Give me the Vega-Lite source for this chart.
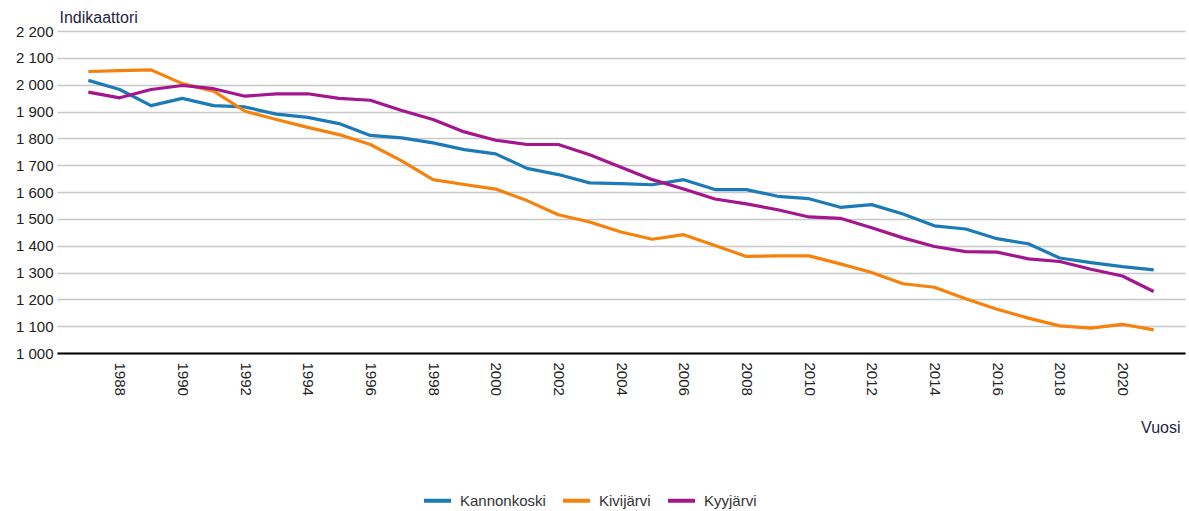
{
  "$schema": "https://vega.github.io/schema/vega-lite/v6.json",
  "width": 1128,
  "height": 322,
  "autosize": "none",
  "padding": {"left": 57, "top": 31, "right": 4, "bottom": 158},
  "background": "white",
  "config": {
    "view": {"stroke": null},
    "font": "Liberation Sans"
  },
  "data": {
    "values": [
      {"Vuosi": 1987, "Kunta": "Kannonkoski", "Arvo": 2016},
      {"Vuosi": 1988, "Kunta": "Kannonkoski", "Arvo": 1982},
      {"Vuosi": 1989, "Kunta": "Kannonkoski", "Arvo": 1922},
      {"Vuosi": 1990, "Kunta": "Kannonkoski", "Arvo": 1949},
      {"Vuosi": 1991, "Kunta": "Kannonkoski", "Arvo": 1922},
      {"Vuosi": 1992, "Kunta": "Kannonkoski", "Arvo": 1917},
      {"Vuosi": 1993, "Kunta": "Kannonkoski", "Arvo": 1890},
      {"Vuosi": 1994, "Kunta": "Kannonkoski", "Arvo": 1878},
      {"Vuosi": 1995, "Kunta": "Kannonkoski", "Arvo": 1855},
      {"Vuosi": 1996, "Kunta": "Kannonkoski", "Arvo": 1811},
      {"Vuosi": 1997, "Kunta": "Kannonkoski", "Arvo": 1802},
      {"Vuosi": 1998, "Kunta": "Kannonkoski", "Arvo": 1783},
      {"Vuosi": 1999, "Kunta": "Kannonkoski", "Arvo": 1758},
      {"Vuosi": 2000, "Kunta": "Kannonkoski", "Arvo": 1742},
      {"Vuosi": 2001, "Kunta": "Kannonkoski", "Arvo": 1688},
      {"Vuosi": 2002, "Kunta": "Kannonkoski", "Arvo": 1665},
      {"Vuosi": 2003, "Kunta": "Kannonkoski", "Arvo": 1634},
      {"Vuosi": 2004, "Kunta": "Kannonkoski", "Arvo": 1631},
      {"Vuosi": 2005, "Kunta": "Kannonkoski", "Arvo": 1627},
      {"Vuosi": 2006, "Kunta": "Kannonkoski", "Arvo": 1646},
      {"Vuosi": 2007, "Kunta": "Kannonkoski", "Arvo": 1609},
      {"Vuosi": 2008, "Kunta": "Kannonkoski", "Arvo": 1609},
      {"Vuosi": 2009, "Kunta": "Kannonkoski", "Arvo": 1584},
      {"Vuosi": 2010, "Kunta": "Kannonkoski", "Arvo": 1575},
      {"Vuosi": 2011, "Kunta": "Kannonkoski", "Arvo": 1543},
      {"Vuosi": 2012, "Kunta": "Kannonkoski", "Arvo": 1553},
      {"Vuosi": 2013, "Kunta": "Kannonkoski", "Arvo": 1518},
      {"Vuosi": 2014, "Kunta": "Kannonkoski", "Arvo": 1474},
      {"Vuosi": 2015, "Kunta": "Kannonkoski", "Arvo": 1462},
      {"Vuosi": 2016, "Kunta": "Kannonkoski", "Arvo": 1426},
      {"Vuosi": 2017, "Kunta": "Kannonkoski", "Arvo": 1407},
      {"Vuosi": 2018, "Kunta": "Kannonkoski", "Arvo": 1354},
      {"Vuosi": 2019, "Kunta": "Kannonkoski", "Arvo": 1337},
      {"Vuosi": 2020, "Kunta": "Kannonkoski", "Arvo": 1322},
      {"Vuosi": 2021, "Kunta": "Kannonkoski", "Arvo": 1310},
      {"Vuosi": 1987, "Kunta": "Kivijärvi", "Arvo": 2049},
      {"Vuosi": 1988, "Kunta": "Kivijärvi", "Arvo": 2052},
      {"Vuosi": 1989, "Kunta": "Kivijärvi", "Arvo": 2055},
      {"Vuosi": 1990, "Kunta": "Kivijärvi", "Arvo": 2004},
      {"Vuosi": 1991, "Kunta": "Kivijärvi", "Arvo": 1976},
      {"Vuosi": 1992, "Kunta": "Kivijärvi", "Arvo": 1901},
      {"Vuosi": 1993, "Kunta": "Kivijärvi", "Arvo": 1870},
      {"Vuosi": 1994, "Kunta": "Kivijärvi", "Arvo": 1841},
      {"Vuosi": 1995, "Kunta": "Kivijärvi", "Arvo": 1814},
      {"Vuosi": 1996, "Kunta": "Kivijärvi", "Arvo": 1777},
      {"Vuosi": 1997, "Kunta": "Kivijärvi", "Arvo": 1716},
      {"Vuosi": 1998, "Kunta": "Kivijärvi", "Arvo": 1646},
      {"Vuosi": 1999, "Kunta": "Kivijärvi", "Arvo": 1628},
      {"Vuosi": 2000, "Kunta": "Kivijärvi", "Arvo": 1611},
      {"Vuosi": 2001, "Kunta": "Kivijärvi", "Arvo": 1568},
      {"Vuosi": 2002, "Kunta": "Kivijärvi", "Arvo": 1515},
      {"Vuosi": 2003, "Kunta": "Kivijärvi", "Arvo": 1488},
      {"Vuosi": 2004, "Kunta": "Kivijärvi", "Arvo": 1451},
      {"Vuosi": 2005, "Kunta": "Kivijärvi", "Arvo": 1424},
      {"Vuosi": 2006, "Kunta": "Kivijärvi", "Arvo": 1441},
      {"Vuosi": 2007, "Kunta": "Kivijärvi", "Arvo": 1401},
      {"Vuosi": 2008, "Kunta": "Kivijärvi", "Arvo": 1360},
      {"Vuosi": 2009, "Kunta": "Kivijärvi", "Arvo": 1362},
      {"Vuosi": 2010, "Kunta": "Kivijärvi", "Arvo": 1362},
      {"Vuosi": 2011, "Kunta": "Kivijärvi", "Arvo": 1332},
      {"Vuosi": 2012, "Kunta": "Kivijärvi", "Arvo": 1300},
      {"Vuosi": 2013, "Kunta": "Kivijärvi", "Arvo": 1258},
      {"Vuosi": 2014, "Kunta": "Kivijärvi", "Arvo": 1245},
      {"Vuosi": 2015, "Kunta": "Kivijärvi", "Arvo": 1202},
      {"Vuosi": 2016, "Kunta": "Kivijärvi", "Arvo": 1163},
      {"Vuosi": 2017, "Kunta": "Kivijärvi", "Arvo": 1130},
      {"Vuosi": 2018, "Kunta": "Kivijärvi", "Arvo": 1101},
      {"Vuosi": 2019, "Kunta": "Kivijärvi", "Arvo": 1093},
      {"Vuosi": 2020, "Kunta": "Kivijärvi", "Arvo": 1107},
      {"Vuosi": 2021, "Kunta": "Kivijärvi", "Arvo": 1086},
      {"Vuosi": 1987, "Kunta": "Kyyjärvi", "Arvo": 1972},
      {"Vuosi": 1988, "Kunta": "Kyyjärvi", "Arvo": 1951},
      {"Vuosi": 1989, "Kunta": "Kyyjärvi", "Arvo": 1982},
      {"Vuosi": 1990, "Kunta": "Kyyjärvi", "Arvo": 1997},
      {"Vuosi": 1991, "Kunta": "Kyyjärvi", "Arvo": 1985},
      {"Vuosi": 1992, "Kunta": "Kyyjärvi", "Arvo": 1957},
      {"Vuosi": 1993, "Kunta": "Kyyjärvi", "Arvo": 1966},
      {"Vuosi": 1994, "Kunta": "Kyyjärvi", "Arvo": 1966},
      {"Vuosi": 1995, "Kunta": "Kyyjärvi", "Arvo": 1949},
      {"Vuosi": 1996, "Kunta": "Kyyjärvi", "Arvo": 1942},
      {"Vuosi": 1997, "Kunta": "Kyyjärvi", "Arvo": 1904},
      {"Vuosi": 1998, "Kunta": "Kyyjärvi", "Arvo": 1870},
      {"Vuosi": 1999, "Kunta": "Kyyjärvi", "Arvo": 1824},
      {"Vuosi": 2000, "Kunta": "Kyyjärvi", "Arvo": 1793},
      {"Vuosi": 2001, "Kunta": "Kyyjärvi", "Arvo": 1777},
      {"Vuosi": 2002, "Kunta": "Kyyjärvi", "Arvo": 1777},
      {"Vuosi": 2003, "Kunta": "Kyyjärvi", "Arvo": 1739},
      {"Vuosi": 2004, "Kunta": "Kyyjärvi", "Arvo": 1692},
      {"Vuosi": 2005, "Kunta": "Kyyjärvi", "Arvo": 1646},
      {"Vuosi": 2006, "Kunta": "Kyyjärvi", "Arvo": 1611},
      {"Vuosi": 2007, "Kunta": "Kyyjärvi", "Arvo": 1574},
      {"Vuosi": 2008, "Kunta": "Kyyjärvi", "Arvo": 1556},
      {"Vuosi": 2009, "Kunta": "Kyyjärvi", "Arvo": 1534},
      {"Vuosi": 2010, "Kunta": "Kyyjärvi", "Arvo": 1507},
      {"Vuosi": 2011, "Kunta": "Kyyjärvi", "Arvo": 1502},
      {"Vuosi": 2012, "Kunta": "Kyyjärvi", "Arvo": 1467},
      {"Vuosi": 2013, "Kunta": "Kyyjärvi", "Arvo": 1429},
      {"Vuosi": 2014, "Kunta": "Kyyjärvi", "Arvo": 1397},
      {"Vuosi": 2015, "Kunta": "Kyyjärvi", "Arvo": 1378},
      {"Vuosi": 2016, "Kunta": "Kyyjärvi", "Arvo": 1376},
      {"Vuosi": 2017, "Kunta": "Kyyjärvi", "Arvo": 1351},
      {"Vuosi": 2018, "Kunta": "Kyyjärvi", "Arvo": 1341},
      {"Vuosi": 2019, "Kunta": "Kyyjärvi", "Arvo": 1312},
      {"Vuosi": 2020, "Kunta": "Kyyjärvi", "Arvo": 1287},
      {"Vuosi": 2021, "Kunta": "Kyyjärvi", "Arvo": 1229}
    ]
  },
  "mark": {"type": "line", "strokeWidth": 3.2, "strokeJoin": "round"},
  "encoding": {
    "x": {
      "field": "Vuosi",
      "type": "quantitative",
      "scale": {"domain": [1986, 2022], "nice": false, "zero": false},
      "axis": {
        "values": [1988, 1990, 1992, 1994, 1996, 1998, 2000, 2002, 2004, 2006, 2008, 2010, 2012, 2014, 2016, 2018, 2020],
        "format": "d",
        "grid": false,
        "ticks": false,
        "domain": true,
        "domainColor": "#000000",
        "domainWidth": 2,
        "labelAngle": 90,
        "labelAlign": "left",
        "labelBaseline": "middle",
        "labelPadding": 9,
        "labelFontSize": 15,
        "labelColor": "#222222",
        "title": "Vuosi",
        "titleFontSize": 16,
        "titleFontWeight": "normal",
        "titleColor": "#1f1f45",
        "titleAnchor": null,
        "titleAlign": "right",
        "titleBaseline": "alphabetic",
        "titleX": 1123,
        "titleY": 79
      }
    },
    "y": {
      "field": "Arvo",
      "type": "quantitative",
      "scale": {"domain": [1000, 2200], "nice": false, "zero": false},
      "axis": {
        "values": [1000, 1100, 1200, 1300, 1400, 1500, 1600, 1700, 1800, 1900, 2000, 2100, 2200],
        "labelExpr": "replace(format(datum.value, ','), ',', ' ')",
        "grid": true,
        "gridColor": "#c8c8c8",
        "gridWidth": 1.5,
        "ticks": false,
        "domain": false,
        "labelPadding": 4,
        "labelFontSize": 15,
        "labelColor": "#222222",
        "title": "Indikaattori",
        "titleFontSize": 16,
        "titleFontWeight": "normal",
        "titleColor": "#1f1f45",
        "titleAngle": 0,
        "titleAnchor": null,
        "titleAlign": "left",
        "titleBaseline": "alphabetic",
        "titleX": 2,
        "titleY": -9
      }
    },
    "color": {
      "field": "Kunta",
      "type": "nominal",
      "scale": {
        "domain": ["Kannonkoski", "Kivijärvi", "Kyyjärvi"],
        "range": ["#1c7ab7", "#f5820c", "#a3168e"]
      },
      "legend": {
        "title": null,
        "orient": "none",
        "direction": "horizontal",
        "legendX": 365,
        "legendY": 454,
        "symbolType": "stroke",
        "symbolSize": 729,
        "symbolStrokeWidth": 4,
        "labelFontSize": 15,
        "labelColor": "#333333",
        "labelOffset": 7,
        "columnPadding": 9
      }
    }
  }
}
